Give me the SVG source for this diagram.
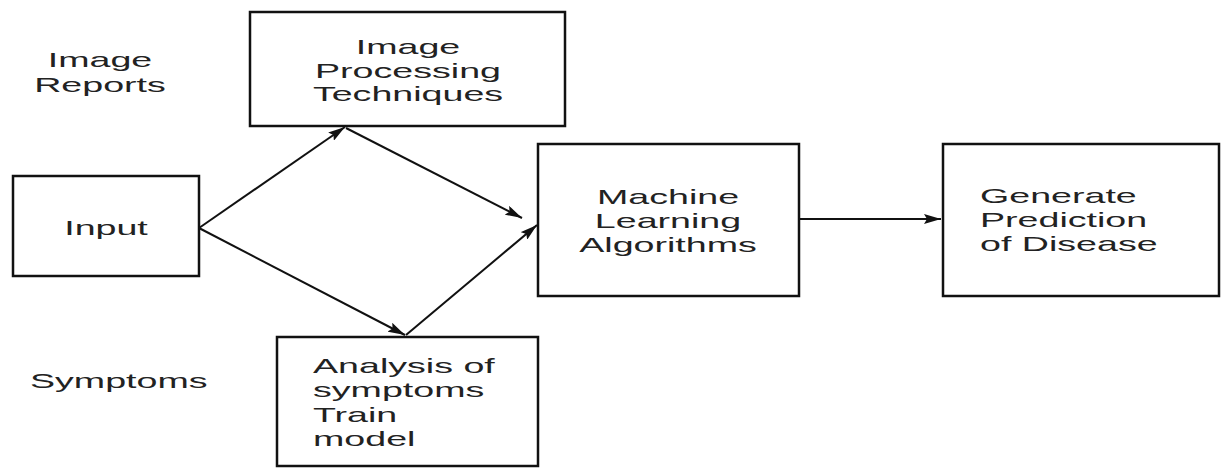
<svg xmlns="http://www.w3.org/2000/svg" width="1221" height="472" viewBox="0 0 1221 472">
<style>
  .box { fill: #ffffff; stroke: #111111; stroke-width: 2.5; }
  .t { font-family: "Liberation Sans", Arial, sans-serif; font-size: 20px; fill: #222222; }
  .c { text-anchor: middle; }
  .l { text-anchor: start; }
  .ln { stroke: #111111; stroke-width: 2; fill: none; marker-end: url(#ah); }
</style>
<defs>
  <marker id="ah" markerUnits="userSpaceOnUse" markerWidth="18" markerHeight="10" refX="17" refY="5" orient="auto">
    <path d="M0,0 L17,5 L0,10 L3,5 z" fill="#111111"/>
  </marker>
</defs>
<rect width="1221" height="472" fill="#ffffff"/>

<g id="label-image-reports">
  <text class="t c" transform="translate(100 67) scale(1.88 1)">Image</text>
  <text class="t c" transform="translate(100 92) scale(1.88 1)">Reports</text>
</g>
<g id="label-symptoms">
  <text class="t l" transform="translate(30 388) scale(1.88 1)">Symptoms</text>
</g>

<g id="node-input">
  <rect class="box" x="13" y="176" width="186" height="100"/>
  <text class="t c" transform="translate(106 235) scale(1.88 1)">Input</text>
</g>

<g id="node-image-processing">
  <rect class="box" x="250" y="12" width="315" height="114"/>
  <text class="t c" transform="translate(408 54) scale(1.88 1)">Image</text>
  <text class="t c" transform="translate(408 78) scale(1.88 1)">Processing</text>
  <text class="t c" transform="translate(408 101) scale(1.88 1)">Techniques</text>
</g>

<g id="node-analysis">
  <rect class="box" x="277" y="337" width="261" height="129"/>
  <text class="t l" transform="translate(313 373) scale(1.88 1)">Analysis of</text>
  <text class="t l" transform="translate(313 397) scale(1.88 1)">symptoms</text>
  <text class="t l" transform="translate(313 422) scale(1.88 1)">Train</text>
  <text class="t l" transform="translate(313 446) scale(1.88 1)">model</text>
</g>

<g id="node-ml">
  <rect class="box" x="538" y="144" width="261" height="152"/>
  <text class="t c" transform="translate(668 204) scale(1.88 1)">Machine</text>
  <text class="t c" transform="translate(668 228) scale(1.88 1)">Learning</text>
  <text class="t c" transform="translate(668 252) scale(1.88 1)">Algorithms</text>
</g>

<g id="node-generate">
  <rect class="box" x="943" y="144" width="276" height="152"/>
  <text class="t l" transform="translate(980 203) scale(1.88 1)">Generate</text>
  <text class="t l" transform="translate(980 227) scale(1.88 1)">Prediction</text>
  <text class="t l" transform="translate(980 251) scale(1.88 1)">of Disease</text>
</g>

<g id="connectors">
  <line class="ln" x1="199" y1="228" x2="345" y2="127"/>
  <line class="ln" x1="346" y1="128" x2="522" y2="218"/>
  <line class="ln" x1="199" y1="228" x2="405" y2="335"/>
  <line class="ln" x1="406" y1="335" x2="537" y2="225"/>
  <line class="ln" x1="799" y1="219" x2="941" y2="219"/>
</g>
</svg>
